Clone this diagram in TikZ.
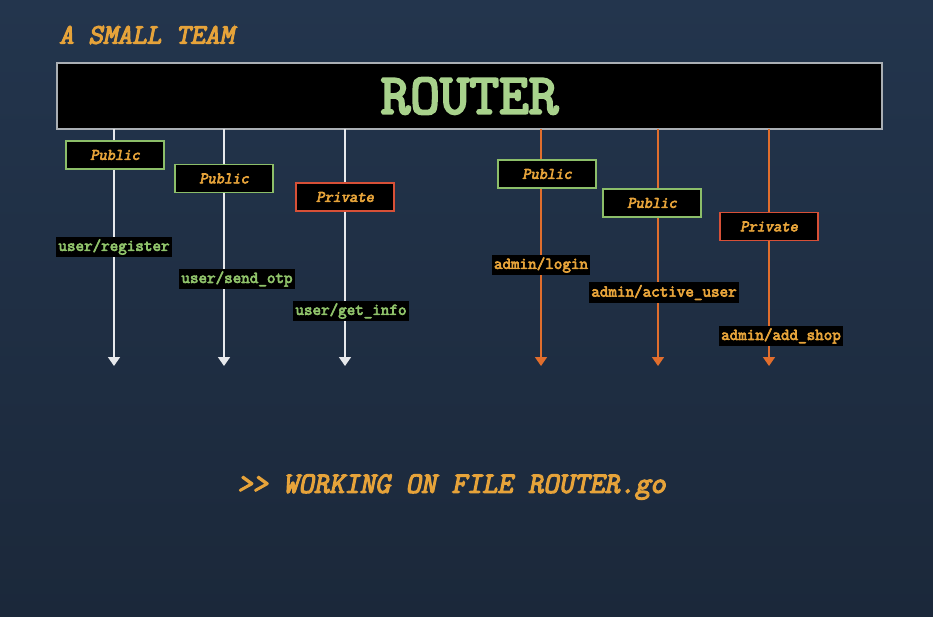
\documentclass[tikz,border=0pt]{standalone}
\usepackage{fontspec}
\newfontfamily\monob[FakeBold=4]{Latin Modern Mono}
\newfontfamily\monobi[FakeBold=4,FakeSlant=0.2]{Latin Modern Mono}
\usetikzlibrary{arrows.meta}
\definecolor{bgtop}{RGB}{35,53,77}
\definecolor{bgbot}{RGB}{27,40,58}
\definecolor{gold}{RGB}{230,163,58}
\definecolor{lgreen}{RGB}{168,210,140}
\definecolor{rgreen}{RGB}{143,194,106}
\definecolor{bgreen}{RGB}{140,190,105}
\definecolor{bred}{RGB}{215,80,55}
\definecolor{orline}{RGB}{225,110,45}
\definecolor{wline}{RGB}{230,232,235}
\definecolor{rborder}{RGB}{170,175,180}
\tikzset{
  x=1pt, y=-1pt,
  access/.style={draw, line width=1.6pt, fill=black, minimum width=98pt, minimum height=28pt,
     inner sep=0pt, text=gold, font=\monobi\fontsize{16}{16}\selectfont},
  pub/.style={access, draw=bgreen},
  priv/.style={access, draw=bred},
  route/.style={fill=black, inner sep=2pt, minimum height=20pt,
     font=\monob\fontsize{16.6}{17}\selectfont},
  uroute/.style={route, text=rgreen},
  aroute/.style={route, text=gold},
  wflow/.style={draw=wline, line width=1.6pt, -{Triangle[width=12pt,length=9pt]}},
  oflow/.style={draw=orline, line width=1.6pt, -{Triangle[width=12pt,length=9pt]}},
}
\begin{document}
\begin{tikzpicture}
\shade[top color=bgtop, bottom color=bgbot] (0,0) rectangle (933,617);
\useasboundingbox (0,0) rectangle (933,617);

\node[anchor=west, inner sep=0pt, text=gold, font=\monobi\fontsize{28.3}{29}\selectfont] (team) at (59,35) {A SMALL TEAM};

\node[draw=rborder, line width=1.2pt, fill=black, minimum width=825pt, minimum height=66pt,
  text=lgreen, font=\monob\fontsize{57.5}{58}\selectfont] (router) at (469.5,96) {ROUTER};

\foreach \n/\x in {1/114,2/224,3/345,4/541,5/658,6/769}{
  \coordinate (s\n) at (\x,129);
  \coordinate (e\n) at (\x,366);
}
\draw[wflow] (s1) -- (e1);
\draw[wflow] (s2) -- (e2);
\draw[wflow] (s3) -- (e3);
\draw[oflow] (s4) -- (e4);
\draw[oflow] (s5) -- (e5);
\draw[oflow] (s6) -- (e6);

\node[pub] (p1) at (115,155) {Public};
\node[pub] (p2) at (224,178.5) {Public};
\node[priv] (p3) at (345,197) {Private};
\node[pub] (p4) at (547,174) {Public};
\node[pub] (p5) at (652,203) {Public};
\node[priv] (p6) at (769,226.5) {Private};

\node[uroute] (r1) at (114,247) {user/register};
\node[uroute] (r2) at (237,279) {user/send\_otp};
\node[uroute] (r3) at (351,311) {user/get\_info};
\node[aroute] (r4) at (541,265) {admin/login};
\node[aroute] (r5) at (664,292.5) {admin/active\_user};
\node[aroute] (r6) at (781,336) {admin/add\_shop};

\node[text=gold, inner sep=0pt, font=\monobi\fontsize{29.7}{30}\selectfont] (work) at (451.5,487) {>> WORKING ON FILE ROUTER.go};
\end{tikzpicture}
\end{document}
